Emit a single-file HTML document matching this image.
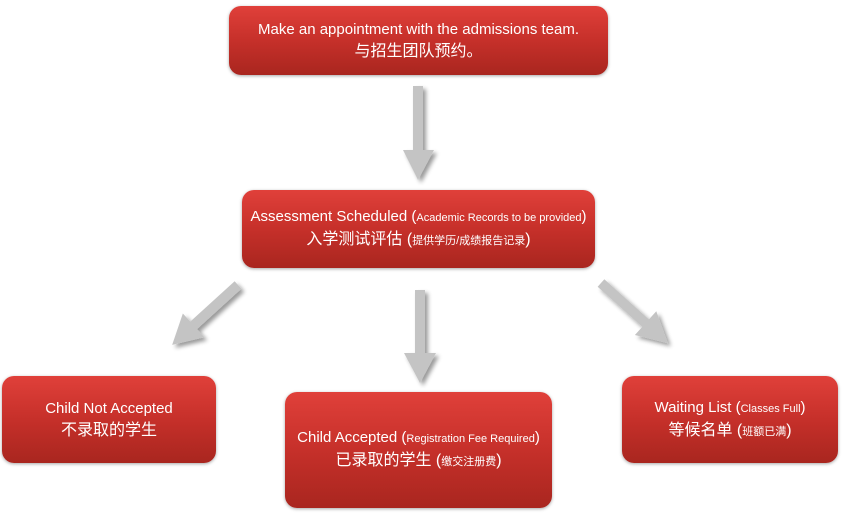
<!DOCTYPE html>
<html><head><meta charset="utf-8"><style>
body{margin:0;width:842px;height:519px;background:#fff;position:relative;overflow:hidden;font-family:"Liberation Sans","Noto Sans CJK SC",sans-serif;}
.b{position:absolute;border-radius:12px;background:linear-gradient(#e0403a,#c6302a 50%,#a9261f);color:#fff;text-align:center;display:flex;flex-direction:column;justify-content:center;box-shadow:0 1px 3px rgba(0,0,0,.35);font-size:15px;line-height:22px;}
.c{font-size:16px}
.s{font-size:11px}
svg{position:absolute;left:0;top:0}
</style></head><body>
<svg width="842" height="519">
<defs><filter id="sh" x="-50%" y="-50%" width="200%" height="200%"><feGaussianBlur in="SourceAlpha" stdDeviation="2"/><feOffset dx="3" dy="3"/><feComponentTransfer><feFuncA type="linear" slope="0.4"/></feComponentTransfer><feMerge><feMergeNode/><feMergeNode in="SourceGraphic"/></feMerge></filter></defs>
<g fill="#c4c4c4" filter="url(#sh)">
<polygon points="413,86 423,86 423,150 434,150 418,180 403,150 413,150"/>
<polygon points="415,290 425,290 425,353 436,353 420,383 404,353 415,353"/>
<g transform="translate(238,285) rotate(47.7)"><polygon points="-5,0 5,0 5,60 16,60 0,89 -16,60 -5,60"/></g>
<g transform="translate(601,283) rotate(-48)"><polygon points="-5,0 5,0 5,60 16,60 0,90 -16,60 -5,60"/></g>
</g></svg>
<div class="b" style="left:229px;top:6px;width:379px;height:69px"><div>Make an appointment with the admissions team.</div><div class="c">与招生团队预约。</div></div>
<div class="b" style="left:242px;top:190px;width:353px;height:78px"><div>Assessment Scheduled (<span class="s">Academic Records to be provided</span>)</div><div class="c">入学测试评估 (<span class="s">提供学历/成绩报告记录</span>)</div></div>
<div class="b" style="left:2px;top:376px;width:214px;height:87px"><div>Child Not Accepted</div><div class="c">不录取的学生</div></div>
<div class="b" style="left:285px;top:392px;width:267px;height:116px"><div>Child Accepted (<span class="s">Registration Fee Required</span>)</div><div class="c">已录取的学生 (<span class="s">缴交注册费</span>)</div></div>
<div class="b" style="left:622px;top:376px;width:216px;height:87px"><div>Waiting List (<span class="s">Classes Full</span>)</div><div class="c">等候名单 (<span class="s">班额已满</span>)</div></div>
</body></html>
